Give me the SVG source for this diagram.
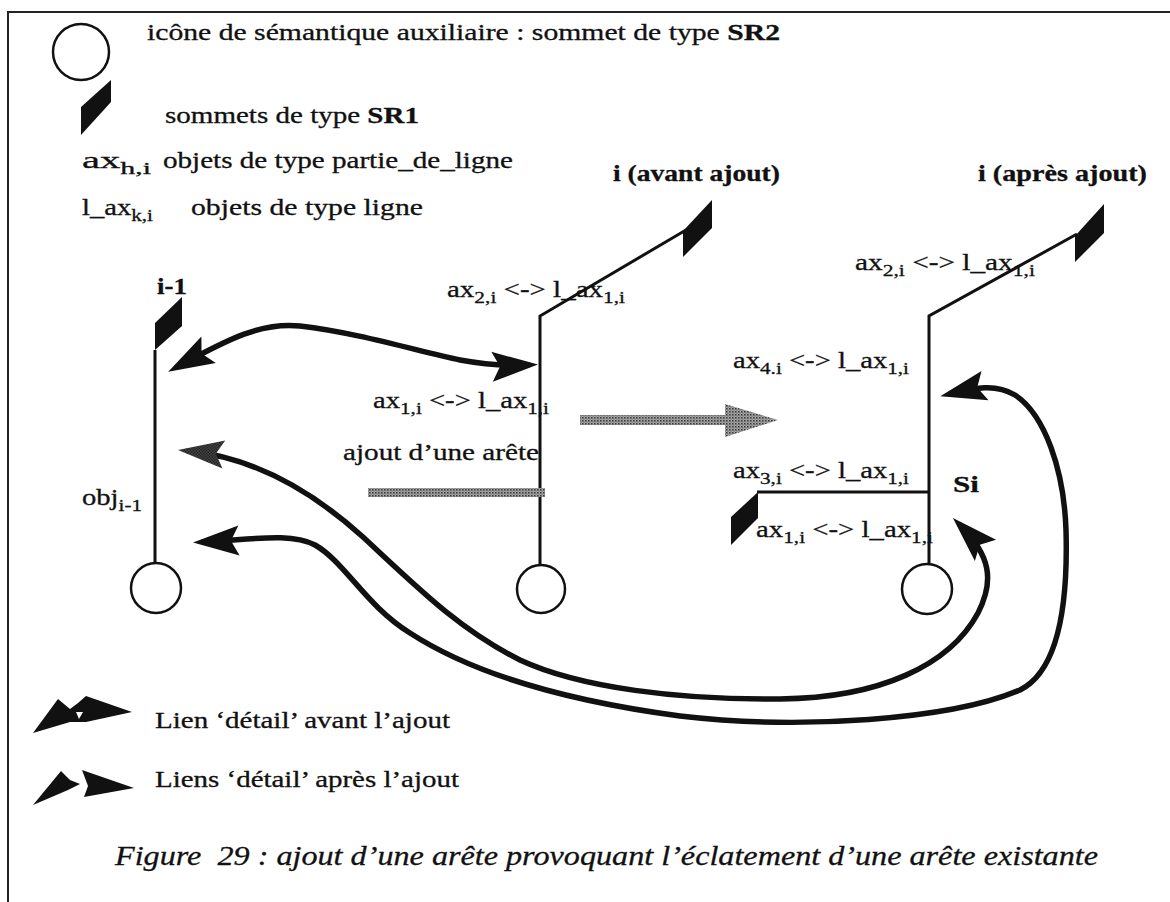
<svg xmlns="http://www.w3.org/2000/svg" width="1170" height="902" viewBox="0 0 1170 902">
<defs>
<style>
.t{font-family:"Liberation Serif","Times New Roman",serif;font-size:23px;fill:#111;stroke:#111;stroke-width:0.3}
.b{font-weight:bold}
.s{font-size:17px}
.cap{font-style:italic;font-size:28px}
.ln{fill:none;stroke:#111;stroke-width:3}
.circ{fill:#fff;stroke:#111;stroke-width:2.5}
.sr1{fill:#111}
.cv{fill:none;stroke:#111;stroke-width:5.5;stroke-linecap:round}
</style>
<pattern id="dithDark" width="3" height="3" patternUnits="userSpaceOnUse"><rect width="3" height="3" fill="#555"/><rect width="1.5" height="1.5" fill="#111"/><rect x="1.5" y="1.5" width="1.5" height="1.5" fill="#111"/></pattern>
<pattern id="dithMid" width="3" height="3" patternUnits="userSpaceOnUse"><rect width="3" height="3" fill="#aaa"/><rect width="1.5" height="1.5" fill="#333"/><rect x="1.5" y="1.5" width="1" height="1" fill="#444"/></pattern>
<marker id="hb" markerUnits="userSpaceOnUse" markerWidth="60" markerHeight="40" viewBox="-50 -20 60 40" refX="0" refY="0" orient="auto-start-reverse" overflow="visible"><path d="M10,0 L-36,-15 L-28,0 L-36,15 Z" fill="#111"/></marker>
<marker id="hg" markerUnits="userSpaceOnUse" markerWidth="60" markerHeight="40" viewBox="-50 -20 60 40" refX="0" refY="0" orient="auto-start-reverse" overflow="visible"><path d="M10,0 L-36,-14 L-28,0 L-36,14 Z" fill="url(#dithDark)"/></marker>
</defs>
<rect width="1170" height="902" fill="#fff"/>
<g id="frame"><path d="M8,902 V12 H1170" fill="none" stroke="#222" stroke-width="2"/></g>

<g id="legend">
<circle class="circ" cx="81" cy="52" r="28"/>
<polygon class="sr1" points="81,107 111,80 111,102 81,135"/>
<text class="t" x="147" y="40" textLength="633" lengthAdjust="spacingAndGlyphs">icône de sémantique auxiliaire : sommet de type <tspan class="b">SR2</tspan></text>
<text class="t" x="165" y="123" textLength="254" lengthAdjust="spacingAndGlyphs">sommets de type <tspan class="b">SR1</tspan></text>
<text class="t" x="82" y="168" textLength="69" lengthAdjust="spacingAndGlyphs">ax<tspan class="s" dy="6">h,i</tspan></text>
<text class="t" x="163" y="168" textLength="350" lengthAdjust="spacingAndGlyphs">objets de type partie_de_ligne</text>
<text class="t" x="82" y="215" textLength="71" lengthAdjust="spacingAndGlyphs">l_ax<tspan class="s" dy="6">k,i</tspan></text>
<text class="t" x="191" y="215" textLength="232" lengthAdjust="spacingAndGlyphs">objets de type ligne</text>
</g>

<g id="node-i-1">
<path class="ln" d="M155,563 V350"/>
<polygon class="sr1" points="155,323 182,297 182,326 155,350"/>
<circle class="circ" cx="156" cy="588" r="25"/>
<text class="t b" x="157" y="294" textLength="30" lengthAdjust="spacingAndGlyphs">i-1</text>
<text class="t" x="82" y="505" textLength="60" lengthAdjust="spacingAndGlyphs">obj<tspan class="s" dy="6">i-1</tspan></text>
</g>

<g id="node-i-avant">
<path class="ln" d="M540,564 V316 L686,230"/>
<polygon class="sr1" points="683,231 712,200 712,228 683,257"/>
<circle class="circ" cx="541" cy="589" r="24"/>
<text class="t b" x="613" y="181" textLength="167" lengthAdjust="spacingAndGlyphs">i (avant ajout)</text>
<text class="t" x="447" y="297" textLength="178" lengthAdjust="spacingAndGlyphs">ax<tspan class="s" dy="6">2,i</tspan><tspan dy="-6"> &lt;-&gt; l_ax</tspan><tspan class="s" dy="6">1,i</tspan></text>
<text class="t" x="373" y="408" textLength="176" lengthAdjust="spacingAndGlyphs">ax<tspan class="s" dy="6">1,i</tspan><tspan dy="-6"> &lt;-&gt; l_ax</tspan><tspan class="s" dy="6">1,i</tspan></text>
<text class="t" x="343" y="460" textLength="196" lengthAdjust="spacingAndGlyphs">ajout d’une arête</text>
<rect x="368" y="488" width="177" height="9" fill="url(#dithMid)"/>
</g>

<g id="transition-arrow">
<rect x="580" y="415" width="148" height="10" fill="url(#dithMid)"/>
<polygon points="725,404 778,420 725,437" fill="url(#dithMid)"/>
</g>

<g id="node-i-apres">
<path class="ln" d="M929,565 V316 L1077,234"/>
<polygon class="sr1" points="1075,236 1104,204 1104,233 1075,262"/>
<path class="ln" d="M929,492 H757"/>
<polygon class="sr1" points="731,517 758,492 758,518 731,545"/>
<circle class="circ" cx="927" cy="589" r="25"/>
<text class="t b" x="978" y="181" textLength="169" lengthAdjust="spacingAndGlyphs">i (après ajout)</text>
<text class="t" x="855" y="270" textLength="180" lengthAdjust="spacingAndGlyphs">ax<tspan class="s" dy="6">2,i</tspan><tspan dy="-6"> &lt;-&gt; l_ax</tspan><tspan class="s" dy="6">1,i</tspan></text>
<text class="t" x="733" y="368" textLength="176" lengthAdjust="spacingAndGlyphs">ax<tspan class="s" dy="6">4.i</tspan><tspan dy="-6"> &lt;-&gt; l_ax</tspan><tspan class="s" dy="6">1,i</tspan></text>
<text class="t" x="733" y="478" textLength="176" lengthAdjust="spacingAndGlyphs">ax<tspan class="s" dy="6">3,i</tspan><tspan dy="-6"> &lt;-&gt; l_ax</tspan><tspan class="s" dy="6">1,i</tspan></text>
<text class="t" x="756" y="537" textLength="177" lengthAdjust="spacingAndGlyphs">ax<tspan class="s" dy="6">1,i</tspan><tspan dy="-6"> &lt;-&gt; l_ax</tspan><tspan class="s" dy="6">1,i</tspan></text>
<text class="t b" x="953" y="492" textLength="26" lengthAdjust="spacingAndGlyphs">Si</text>
</g>

<g id="connectors">
<path class="cv" marker-start="url(#hb)" marker-end="url(#hb)" d="M177,367 C230,338 262,322 300,326 C360,333 420,352 460,360 C482,364 508,366 528,365"/>
<path class="cv" marker-start="url(#hg)" marker-end="url(#hb)" d="M188,451 C240,456 300,480 363,537 C420,590 460,630 520,660 C580,688 680,700 780,699 C880,698 950,665 978,613 C995,580 990,555 960,525"/>
<path class="cv" marker-start="url(#hb)" marker-end="url(#hb)" d="M203,542 C250,540 290,532 315,545 C345,562 365,605 410,633 C470,672 560,700 680,716 C800,730 950,720 1020,690 C1060,670 1068,600 1066,530 C1064,470 1045,415 1015,395 C995,383 975,388 950,394"/>
</g>

<g id="legend-links">
<polygon points="33,733 58,699 70,709 78,703 86,696 132,712 86,722 70,722" fill="#111"/>
<polygon points="76,712 83,712 79,719" fill="#fff"/>
<text class="t" x="155" y="728" textLength="295" lengthAdjust="spacingAndGlyphs">Lien ‘détail’ avant l’ajout</text>
<polygon points="33,805 61,771 70,780 80,784 68,790" fill="#111"/>
<polygon points="82,770 134,788 84,797 88,786" fill="#111"/>
<text class="t" x="155" y="787" textLength="304" lengthAdjust="spacingAndGlyphs">Liens ‘détail’ après l’ajout</text>
</g>

<text class="t cap" x="115" y="865" textLength="983" lengthAdjust="spacingAndGlyphs">Figure&#160; 29 : ajout d’une arête provoquant l’éclatement d’une arête existante</text>
</svg>
